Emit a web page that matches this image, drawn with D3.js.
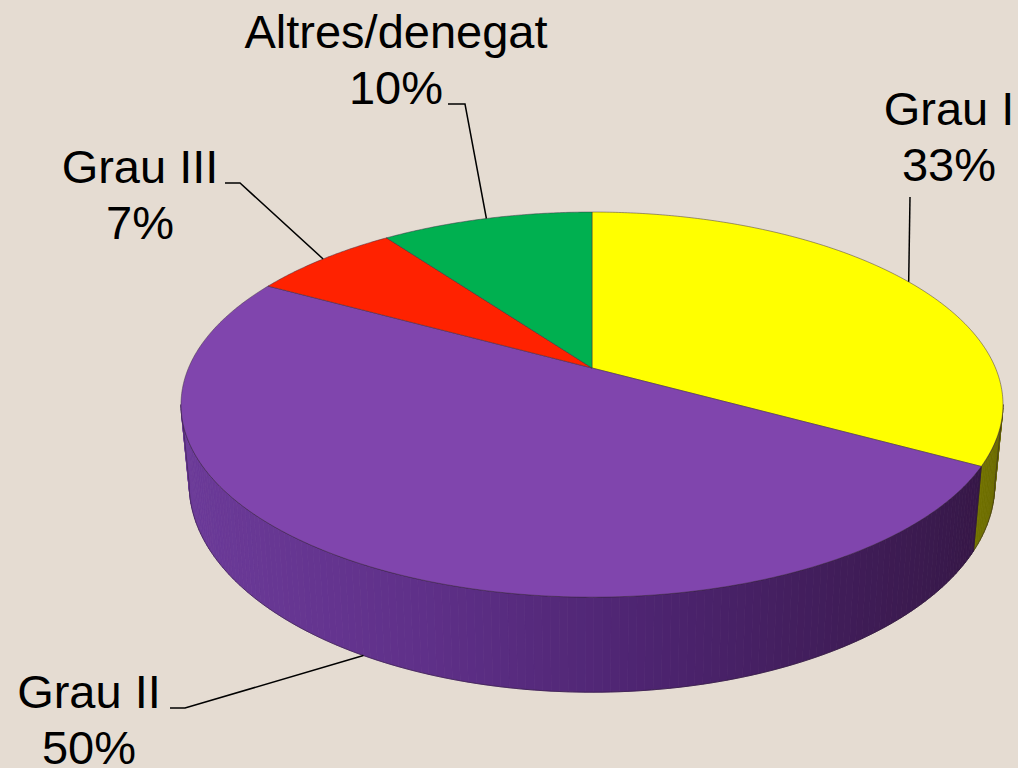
<!DOCTYPE html>
<html>
<head>
<meta charset="utf-8">
<script src="https://cdn.jsdelivr.net/npm/d3@7"></script>
<style>
  body { margin: 0; background: #e5dcd2; }
  svg { display: block; }
</style>
</head>
<body>
<svg></svg>
<script>
// data
var categories = ["Grau I", "Grau II", "Grau III", "Altres/denegat"];
var values = [33, 50, 7, 10];
var pctLabels = ["33%", "50%", "7%", "10%"];
var colors = ["#ffff00", "#8045ad", "#ff2200", "#00b050"];

var width = 1018, height = 768;

var svg = d3.select("svg")
    .attr("width", width)
    .attr("height", height);

svg.append("rect")
    .attr("width", width)
    .attr("height", height)
    .attr("fill", "#e5dcd2");

// perspective disk
var cx = 592, cy = 368, A = 403.5, B = 185.6, k = 0.19, D = 77;

function proj(a, bottom) {
  var u = Math.sin(a), v = -Math.cos(a), w = 1 - k * v;
  var x = cx + A * u / w, y = cy + B * v / w;
  if (bottom) {
    x = cx + (x - cx) * 0.98;
    y += D / w;
  }
  return [x, y];
}

var arcs = d3.pie().sort(null).value(function(d) { return d; })(values);

var line = d3.line();
var step = Math.PI / 360;

function rim(a1, a2, bottom) {
  var pts = [];
  for (var a = a1; a < a2; a += step) pts.push(proj(a, bottom));
  pts.push(proj(a2, bottom));
  return pts;
}

// visible front of the rim (silhouette where tangent is vertical)
var visLo = Math.PI - Math.asin(Math.sqrt(1 - k * k)) , visHi;
visLo = Math.acos(-k);
visHi = 2 * Math.PI - visLo;

var sideShade = [
  d3.scaleLinear().domain([900, 1000]).range(["#8c8c00", "#6c6c00"]),
  d3.scaleLinear().domain([180, 420, 650, 980]).range(["#6c3b99", "#5f3089", "#4d2470", "#371848"]),
  d3.scaleLinear().domain([0, 1018]).range(["#a01500", "#701000"]),
  d3.scaleLinear().domain([0, 1018]).range(["#007035", "#005028"])
];

var sides = svg.append("g");
arcs.forEach(function(d, i) {
  var a1 = Math.max(d.startAngle, visLo), a2 = Math.min(d.endAngle, visHi);
  if (a2 <= a1) return;
  var g = sides.append("g");
  for (var a = a1; a < a2; a += step * 2) {
    var b = Math.min(a + step * 2, a2);
    var p = [proj(a, false), proj(b, false), proj(b, true), proj(a, true)];
    var c = sideShade[i]((p[0][0] + p[1][0]) / 2);
    g.append("path")
        .attr("d", line(p) + "Z")
        .attr("fill", c)
        .attr("stroke", c)
        .attr("stroke-width", 0.8);
  }
  var outline = rim(a1, a2, false).concat(rim(a1, a2, true).reverse());
  g.append("path")
      .attr("d", line(outline) + "Z")
      .attr("fill", "none")
      .attr("stroke", "#2a1a30")
      .attr("stroke-opacity", 0.6)
      .attr("stroke-width", 0.8);
});

// top faces
svg.append("g").selectAll("path")
  .data(arcs)
  .join("path")
    .attr("d", function(d) {
      return line([[cx, cy]].concat(rim(d.startAngle, d.endAngle, false))) + "Z";
    })
    .attr("fill", function(d, i) { return colors[i]; })
    .attr("stroke", "#3a2a40")
    .attr("stroke-opacity", 0.6)
    .attr("stroke-width", 0.8);

// labels and leader lines
var labelPos = [
  { x: 949, y: 125, path: [[910, 197]] },
  { x: 89, y: 708, path: [[170, 708], [185, 708]], bottom: true },
  { x: 140, y: 183, path: [[225, 183], [240, 183]] },
  { x: 396, y: 48, path: [[448, 104], [465, 104]] }
];

arcs.forEach(function(d, i) {
  var lp = labelPos[i];
  var mid = (d.startAngle + d.endAngle) / 2;
  var end = proj(mid, !!lp.bottom);
  svg.append("path")
      .attr("d", line(lp.path.concat([end])))
      .attr("fill", "none")
      .attr("stroke", "#000")
      .attr("stroke-width", 1.5);

  var t = svg.append("text")
      .attr("x", lp.x)
      .attr("y", lp.y)
      .attr("text-anchor", "middle")
      .attr("font-family", "'Liberation Sans', Arial, sans-serif")
      .attr("font-size", 47)
      .attr("fill", "#000");
  t.append("tspan").attr("x", lp.x).text(categories[i]);
  t.append("tspan").attr("x", lp.x).attr("dy", 56).text(pctLabels[i]);
});
</script>
</body>
</html>
